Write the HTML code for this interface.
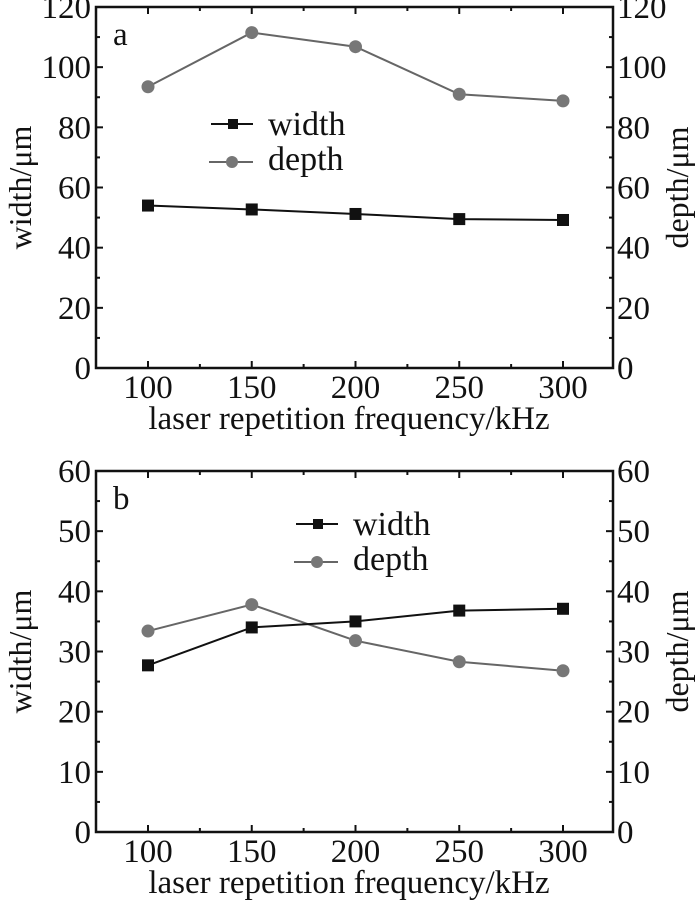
<!DOCTYPE html>
<html><head><meta charset="utf-8"><style>body{margin:0;background:#fff}svg{display:block}text{font-family:"Liberation Serif",serif;fill:#111}</style></head>
<body>
<svg width="700" height="901" xmlns="http://www.w3.org/2000/svg" id="s"></svg>
<script>
const s=document.getElementById('s');let h='';
function panel(top,bot,max,step,wd,dp,lab,leg){
 const L=96,R=613;const X=v=>148+(v-100)*2.075;const Y=v=>bot-(v/max)*(bot-top);
 h+=`<rect x="${L}" y="${top}" width="${R-L}" height="${bot-top}" fill="none" stroke="#111" stroke-width="2.5"/>`;
 for(let v=0;v<=max;v+=step/2){const y=Y(v);const maj=(Math.round(v/step*2)%2==0);const t=maj?7:4;
  h+=`<line x1="${L}" x2="${L+t}" y1="${y}" y2="${y}" stroke="#111" stroke-width="2"/><line x1="${R}" x2="${R-t}" y1="${y}" y2="${y}" stroke="#111" stroke-width="2"/>`;
  if(maj){h+=`<text x="91" y="${y+11}" font-size="33" text-anchor="end">${v}</text><text x="617" y="${y+11}" font-size="33">${v}</text>`;}}
 for(let v=100;v<=300;v+=25){const x=X(v);const maj=v%50==0;const t=maj?7:4;
  h+=`<line x1="${x}" x2="${x}" y1="${bot}" y2="${bot-t}" stroke="#111" stroke-width="2"/><line x1="${x}" x2="${x}" y1="${top}" y2="${top+t}" stroke="#111" stroke-width="2"/>`;
  if(maj)h+=`<text x="${x}" y="${bot+30}" font-size="33" text-anchor="middle">${v}</text>`;}
 h+=`<text x="349" y="${bot+61}" font-size="33" text-anchor="middle">laser repetition frequency/kHz</text>`;
 const cy=(top+bot)/2;
 h+=`<text transform="translate(31,${cy}) rotate(-90)" font-size="32" text-anchor="middle">width/μm</text>`;
 h+=`<text transform="translate(688,${cy}) rotate(-90)" font-size="32" text-anchor="middle">depth/μm</text>`;
 h+=`<text x="113" y="${top+38}" font-size="33">${lab}</text>`;
 const xs=[100,150,200,250,300].map(X);
 h+=`<polyline points="${xs.map((x,i)=>x+','+Y(dp[i])).join(' ')}" fill="none" stroke="#666" stroke-width="2"/>`;
 h+=`<polyline points="${xs.map((x,i)=>x+','+Y(wd[i])).join(' ')}" fill="none" stroke="#111" stroke-width="2"/>`;
 xs.forEach((x,i)=>{h+=`<circle cx="${x}" cy="${Y(dp[i])}" r="6.5" fill="#777"/><rect x="${x-6}" y="${Y(wd[i])-6}" width="12" height="12" fill="#111"/>`;});
 const [lx,ly]=leg;
 h+=`<line x1="${lx-22}" x2="${lx+20}" y1="${ly}" y2="${ly}" stroke="#111" stroke-width="2"/><rect x="${lx-5}" y="${ly-5}" width="10" height="10" fill="#111"/><text x="${lx+35}" y="${ly+11}" font-size="34">width</text>`;
 h+=`<line x1="${lx-24}" x2="${lx+20}" y1="${ly+38}" y2="${ly+38}" stroke="#666" stroke-width="2"/><circle cx="${lx-1}" cy="${ly+38}" r="6" fill="#777"/><text x="${lx+35}" y="${ly+46}" font-size="34">depth</text>`;
}
panel(7,368,120,20,[54,52.7,51.2,49.5,49.2],[93.5,111.5,106.8,91,88.8],'a',[233,124]);
panel(471,832,60,10,[27.7,34,35,36.8,37.1],[33.4,37.8,31.8,28.3,26.8],'b',[318,524]);
s.innerHTML=h;
</script>
</body></html>
